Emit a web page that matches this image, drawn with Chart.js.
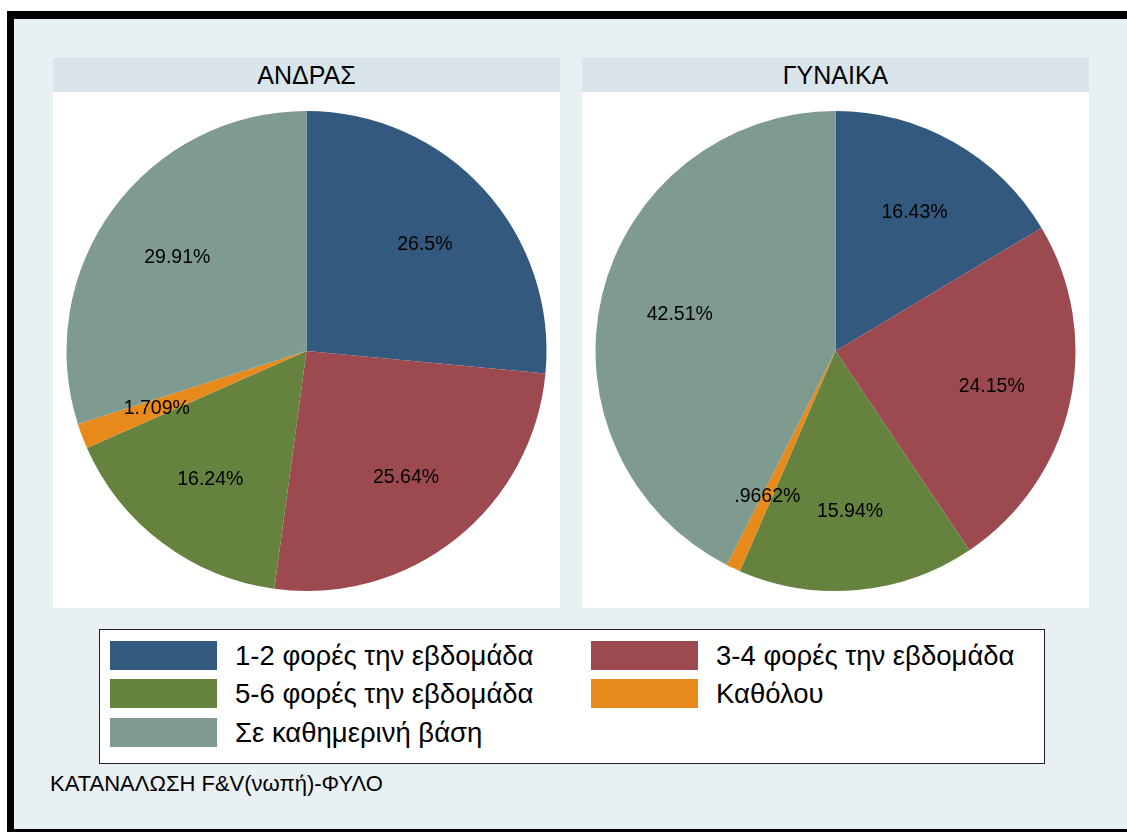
<!DOCTYPE html>
<html>
<head>
<meta charset="utf-8">
<script src="https://cdn.jsdelivr.net/npm/chart.js@4/dist/chart.umd.min.js"></script>
<style>
html,body{margin:0;padding:0;background:#fff;width:1127px;height:832px;overflow:hidden;font-family:"Liberation Sans",Arial,sans-serif;}
#frame{position:absolute;left:7px;top:11px;width:1140px;height:810px;border-top:8px solid #000;border-left:7px solid #000;border-bottom:4px solid #000;background:#e8f0f3;}
.panel{position:absolute;top:58px;width:507px;height:550px;background:#fff;}
.ptitle{position:absolute;left:0;top:0;width:100%;height:34px;background:#d9e5eb;text-align:center;line-height:35px;font-size:25px;color:#000;}
.pcanvas{position:absolute;left:0;top:34px;width:507px;height:516px;}
#legend{position:absolute;left:99px;top:629px;width:944px;height:133px;background:#fff;border:1px solid #222;}
.li{position:absolute;height:29px;}
.sw{position:absolute;left:0;top:0;width:107px;height:29px;}
.lt{position:absolute;left:125px;top:-3px;white-space:nowrap;font-size:27.5px;line-height:35px;color:#000;}
#caption{position:absolute;left:50px;top:771px;font-size:22px;color:#000;white-space:nowrap;}
</style>
</head>
<body>
<div id="frame"></div>
<div class="panel" style="left:53px"><div class="ptitle" id="t0"></div><div class="pcanvas"><canvas id="c0" width="507" height="516"></canvas></div></div>
<div class="panel" style="left:582px"><div class="ptitle" id="t1"></div><div class="pcanvas"><canvas id="c1" width="507" height="516"></canvas></div></div>
<div id="legend"></div>
<div id="caption"></div>
<script>
const categories = ["1-2 φορές την εβδομάδα","3-4 φορές την εβδομάδα","5-6 φορές την εβδομάδα","Καθόλου","Σε καθημερινή βάση"];
const panelTitles = ["ΑΝΔΡΑΣ","ΓΥΝΑΙΚΑ"];
const maleValues = [26.5, 25.64, 16.24, 1.709, 29.91];
const femaleValues = [16.43, 24.15, 15.94, 0.9662, 42.51];
const colors = ["#335a7e","#9c4a50","#66823f","#e8891b","#7f9a8f"];
const captionText = "ΚΑΤΑΝΑΛΩΣΗ F&V(νωπή)-ΦΥΛΟ";

function fmt(v){ return String(v).replace(/^0\./,'.') + '%'; }

const labelPlugin = {
  id:'sliceLabels',
  afterDatasetsDraw(chart){
    const ctx = chart.ctx;
    const meta = chart.getDatasetMeta(0);
    const data = chart.data.datasets[0].data;
    ctx.save();
    ctx.font = '19.5px "Liberation Sans", Arial, sans-serif';
    ctx.fillStyle = '#000';
    ctx.textAlign = 'center';
    ctx.textBaseline = 'middle';
    meta.data.forEach((arc,i)=>{
      const p = arc.getProps(['x','y','startAngle','endAngle','outerRadius'],true);
      const mid = (p.startAngle+p.endAngle)/2;
      const r = p.outerRadius*0.667;
      ctx.fillText(fmt(data[i]), p.x+Math.cos(mid)*r, p.y+Math.sin(mid)*r+1);
    });
    ctx.restore();
  }
};

function makePie(id, values){
  new Chart(document.getElementById(id),{
    type:'pie',
    data:{labels:categories,datasets:[{data:values,backgroundColor:colors,borderWidth:0}]},
    options:{
      responsive:false,animation:false,
      layout:{padding:{left:13,right:13,top:19,bottom:17}},
      plugins:{legend:{display:false},tooltip:{enabled:false}}
    },
    plugins:[labelPlugin]
  });
}
document.getElementById('t0').textContent = panelTitles[0];
document.getElementById('t1').textContent = panelTitles[1];
makePie('c0', maleValues);
makePie('c1', femaleValues);

const legend = document.getElementById('legend');
const pos = [[10,11],[491,11],[10,49],[491,49],[10,88]];
categories.forEach((c,i)=>{
  const d = document.createElement('div');
  d.className='li';
  d.style.left = pos[i][0]+'px'; d.style.top = pos[i][1]+'px';
  d.innerHTML = '<div class="sw" style="background:'+colors[i]+'"></div><div class="lt"></div>';
  d.querySelector('.lt').textContent = c;
  legend.appendChild(d);
});
document.getElementById('caption').textContent = captionText;
</script>
</body>
</html>
